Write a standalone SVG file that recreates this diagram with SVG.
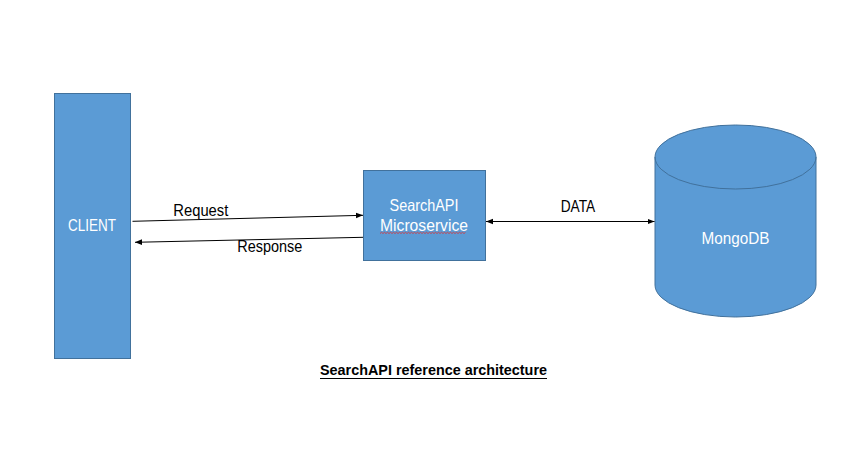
<svg xmlns="http://www.w3.org/2000/svg" width="851" height="449" viewBox="0 0 851 449">
<style>
.shape{fill:#5B9BD5;stroke:#41719C;stroke-width:1}
.wt{fill:#ffffff;font-family:"Liberation Sans",Arial,sans-serif;font-size:16.5px;text-anchor:middle}
.bt{fill:#000000;font-family:"Liberation Sans",Arial,sans-serif;font-size:16.5px}
.conn{stroke:#000000;stroke-width:1;fill:none}
</style>
<defs>
<marker id="ah" viewBox="0 0 10 10" refX="10" refY="5" markerWidth="7" markerHeight="7" orient="auto-start-reverse" markerUnits="userSpaceOnUse">
<path d="M0,1 L10,5 L0,9 Z" fill="#000"/>
</marker>
</defs>
<rect width="851" height="449" fill="#ffffff"/>
<g id="client">
<rect class="shape" x="54.5" y="93.5" width="76" height="265"/>
<text class="wt" x="92" y="231" textLength="48" lengthAdjust="spacingAndGlyphs">CLIENT</text>
</g>
<g id="searchapi">
<rect class="shape" x="363.5" y="170.5" width="122" height="90"/>
<text class="wt" x="424" y="211" textLength="69" lengthAdjust="spacingAndGlyphs">SearchAPI</text>
<text class="wt" x="424" y="231" textLength="88" lengthAdjust="spacingAndGlyphs">Microservice</text>
<path d="M380,233.5 l1.5,-1.2 l1.5,1.2 l1.5,-1.2 l1.5,1.2 l1.5,-1.2 l1.5,1.2 l1.5,-1.2 l1.5,1.2 l1.5,-1.2 l1.5,1.2 l1.5,-1.2 l1.5,1.2 l1.5,-1.2 l1.5,1.2 l1.5,-1.2 l1.5,1.2 l1.5,-1.2 l1.5,1.2 l1.5,-1.2 l1.5,1.2 l1.5,-1.2 l1.5,1.2 l1.5,-1.2 l1.5,1.2 l1.5,-1.2 l1.5,1.2 l1.5,-1.2 l1.5,1.2 l1.5,-1.2 l1.5,1.2 l1.5,-1.2 l1.5,1.2 l1.5,-1.2 l1.5,1.2 l1.5,-1.2 l1.5,1.2 l1.5,-1.2 l1.5,1.2 l1.5,-1.2 l1.5,1.2 l1.5,-1.2 l1.5,1.2 l1.5,-1.2 l1.5,1.2 l1.5,-1.2 l1.5,1.2 l1.5,-1.2 l1.5,1.2 l1.5,-1.2 l1.5,1.2 l1.5,-1.2 l1.5,1.2 l1.5,-1.2 l1.5,1.2 l1.5,-1.2 l1.5,1.2 l1.5,-1.2" fill="none" stroke="#E03030" stroke-width="0.8"/>
</g>
<g id="mongodb">
<path class="shape" d="M655,157 L655,285 A80.5,32 0 0 0 816,285 L816,157 A80.5,32 0 0 0 655,157 Z"/>
<path d="M655,157 A80.5,32 0 0 0 816,157" fill="none" stroke="#41719C" stroke-width="1"/>
<text class="wt" x="735.5" y="243.5" textLength="68" lengthAdjust="spacingAndGlyphs">MongoDB</text>
</g>
<g id="connectors">
<line class="conn" x1="132.5" y1="221.3" x2="363" y2="215.3" marker-end="url(#ah)"/>
<line class="conn" x1="363" y1="237.3" x2="135" y2="242.3" marker-end="url(#ah)"/>
<line class="conn" x1="486" y1="221.5" x2="654.5" y2="221.5" marker-start="url(#ah)" marker-end="url(#ah)"/>
<text class="bt" x="173.3" y="216" textLength="55" lengthAdjust="spacingAndGlyphs">Request</text>
<text class="bt" x="237.3" y="251.5" textLength="65" lengthAdjust="spacingAndGlyphs">Response</text>
<text class="bt" x="560.7" y="212.3" textLength="34.6" lengthAdjust="spacingAndGlyphs">DATA</text>
</g>
<g id="caption">
<text x="320" y="375" font-family="'Liberation Sans',Arial,sans-serif" font-size="14.5" font-weight="bold" fill="#000" textLength="227" lengthAdjust="spacingAndGlyphs">SearchAPI reference architecture</text>
<line x1="320" y1="378.5" x2="547" y2="378.5" stroke="#000" stroke-width="1"/>
</g>
</svg>
